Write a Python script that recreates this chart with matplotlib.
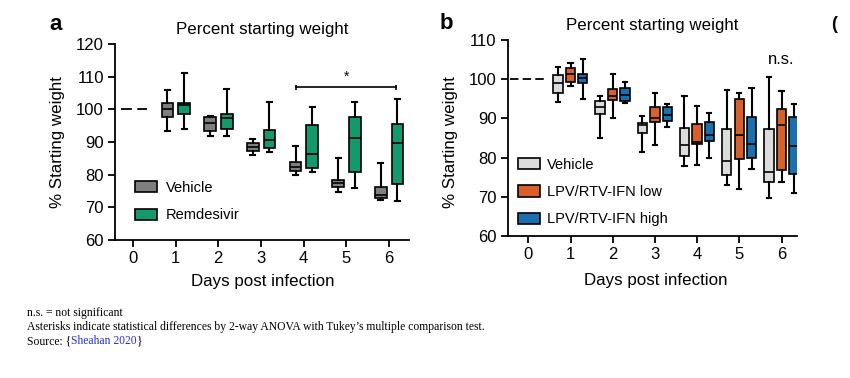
import matplotlib
matplotlib.use("Agg")
import matplotlib.pyplot as plt
from matplotlib.patches import Patch

plt.rcParams['font.family'] = ['Liberation Sans', 'DejaVu Sans']

days = [1, 2, 3, 4, 5, 6]
day_ticks = [0, 1, 2, 3, 4, 5, 6]

# panel a: five-number summaries per day (whislo, q1, med, q3, whishi)
veh_a_lo = [93.4, 91.9, 85.9, 80.0, 74.7, 72.1]
veh_a_q1 = [97.8, 93.4, 87.1, 81.1, 76.1, 72.8]
veh_a_med = [100.2, 95.8, 88.6, 82.3, 77.4, 73.8]
veh_a_q3 = [101.8, 97.6, 89.6, 83.9, 78.4, 76.1]
veh_a_hi = [106.0, 98.1, 91.0, 88.9, 85.1, 83.5]

rem_lo = [94.0, 91.9, 86.8, 80.8, 75.8, 71.8]
rem_q1 = [98.6, 93.9, 88.1, 82.0, 80.8, 77.3]
rem_med = [101.4, 97.3, 90.7, 86.4, 91.1, 89.6]
rem_q3 = [102.0, 98.6, 93.7, 95.3, 97.6, 95.4]
rem_hi = [111.0, 106.2, 102.2, 100.6, 102.2, 103.2]

# panel b
veh_b_lo = [94.3, 85.1, 81.3, 77.9, 72.9, 69.8]
veh_b_q1 = [96.6, 91.1, 86.2, 80.4, 75.6, 73.7]
veh_b_med = [99.1, 93.0, 88.2, 83.2, 79.1, 76.2]
veh_b_q3 = [101.1, 94.4, 88.9, 87.5, 87.2, 87.2]
veh_b_hi = [103.2, 95.7, 90.7, 95.7, 97.2, 100.5]

low_lo = [98.3, 90.0, 83.1, 78.1, 72.0, 73.7]
low_q1 = [99.4, 94.7, 89.2, 83.4, 79.6, 76.8]
low_med = [101.2, 95.8, 90.0, 84.1, 85.7, 88.2]
low_q3 = [102.8, 97.4, 92.8, 88.6, 94.9, 92.5]
low_hi = [104.2, 101.2, 96.4, 93.2, 96.4, 97.0]

high_lo = [95.0, 94.0, 87.9, 80.0, 77.1, 71.0]
high_q1 = [99.1, 94.5, 89.3, 84.3, 79.8, 75.8]
high_med = [100.2, 96.0, 90.9, 85.8, 83.4, 83.0]
high_q3 = [101.2, 97.7, 92.8, 89.0, 90.3, 90.3]
high_hi = [105.2, 99.2, 93.7, 91.3, 97.7, 93.7]


def stats(lo, q1, med, q3, hi):
    return [dict(whislo=a, q1=b, med=c, q3=d, whishi=e, fliers=[])
            for a, b, c, d, e in zip(lo, q1, med, q3, hi)]


def draw_boxes(ax, st, offset, width, color):
    pos = [d + offset for d in days]
    ax.bxp(st, positions=pos, widths=width, patch_artist=True,
           showfliers=False, manage_ticks=False,
           boxprops=dict(facecolor=color, edgecolor='black', linewidth=1.2),
           medianprops=dict(color='black', linewidth=1.2),
           whiskerprops=dict(color='black', linewidth=1.5),
           capprops=dict(color='black', linewidth=1.5),
           capwidths=width * 0.45)


def style_axes(ax):
    for s in ['top', 'right']:
        ax.spines[s].set_visible(False)
    for s in ['left', 'bottom']:
        ax.spines[s].set_linewidth(1.3)
    ax.tick_params(direction='out', length=5, width=1.3, labelsize=12, pad=3)
    ax.set_xticks(day_ticks)
    ax.set_title('Percent starting weight', fontsize=12.2, pad=7)
    ax.set_ylabel('% Starting weight', fontsize=12.2)
    ax.set_xlabel('Days post infection', fontsize=12.2)


fig = plt.figure(figsize=(8.5, 3.78), dpi=100)

# ---- panel a
ax1 = fig.add_axes([0.1353, 0.365, 0.3459, 0.5186])
gray = '#7f7f7f'
green = '#14996c'
draw_boxes(ax1, stats(veh_a_lo, veh_a_q1, veh_a_med, veh_a_q3, veh_a_hi), -0.19, 0.27, gray)
draw_boxes(ax1, stats(rem_lo, rem_q1, rem_med, rem_q3, rem_hi), 0.2, 0.27, green)
ax1.plot([-0.29, 0.33], [100, 100], color='black', lw=1.3, linestyle=(0, (6, 3)))
ax1.plot([3.81, 6.16], [106.8, 106.8], color='black', lw=1.2)
ax1.vlines([3.81, 6.16], 106.0, 107.6, color='black', lw=1.2)
ax1.text(5.0, 107.9, '*', ha='center', va='bottom', fontsize=10)
ax1.set_xlim(-0.42, 6.47)
ax1.set_ylim(60, 120)
ax1.set_yticks([60, 70, 80, 90, 100, 110, 120])
style_axes(ax1)
ax1.yaxis.set_label_coords(-0.17, 0.5)
ax1.xaxis.set_label_coords(0.502, -0.172)
ax1.legend(handles=[Patch(facecolor=gray, edgecolor='black', lw=1.2, label='Vehicle'),
                    Patch(facecolor=green, edgecolor='black', lw=1.2, label='Remdesivir')],
           loc='lower left', bbox_to_anchor=(0.068, 0.09), frameon=False, fontsize=10.5,
           borderpad=0, borderaxespad=0, handlelength=1.5, handleheight=0.85,
           handletextpad=0.6, labelspacing=0.95)

# ---- panel b
ax2 = fig.add_axes([0.5973, 0.3757, 0.34, 0.5185])
light = '#dcdcdc'
orange = '#d8602b'
blue = '#1a70ae'
draw_boxes(ax2, stats(veh_b_lo, veh_b_q1, veh_b_med, veh_b_q3, veh_b_hi), -0.3, 0.22, light)
draw_boxes(ax2, stats(low_lo, low_q1, low_med, low_q3, low_hi), 0.0, 0.22, orange)
draw_boxes(ax2, stats(high_lo, high_q1, high_med, high_q3, high_hi), 0.29, 0.22, blue)
ax2.plot([-0.43, 0.37], [100, 100], color='black', lw=1.3, linestyle=(0, (4.7, 2.3)))
ax2.text(6.0, 103.0, 'n.s.', ha='center', va='bottom', fontsize=12)
ax2.set_xlim(-0.49, 6.36)
ax2.set_ylim(60, 110)
ax2.set_yticks([60, 70, 80, 90, 100, 110])
style_axes(ax2)
ax2.yaxis.set_label_coords(-0.172, 0.48)
ax2.xaxis.set_label_coords(0.511, -0.19)
ax2.legend(handles=[Patch(facecolor=light, edgecolor='black', lw=1.2, label='Vehicle'),
                    Patch(facecolor=orange, edgecolor='black', lw=1.2, label='LPV/RTV-IFN low'),
                    Patch(facecolor=blue, edgecolor='black', lw=1.2, label='LPV/RTV-IFN high')],
           loc='lower left', bbox_to_anchor=(0.036, 0.05), frameon=False, fontsize=10.5,
           borderpad=0, borderaxespad=0, handlelength=1.5, handleheight=0.8,
           handletextpad=0.45, labelspacing=0.9)

# panel letters
fig.text(49 / 850, 1 - 30 / 378, 'a', fontsize=16, fontweight='bold', va='baseline')
fig.text(440 / 850, 1 - 29 / 378, 'b', fontsize=16, fontweight='bold', va='baseline')
fig.text(831 / 850, 1 - 29 / 378, '(', fontsize=13, fontweight='bold', va='baseline')

# footer notes
serif = ['Liberation Serif', 'DejaVu Serif']
fs = 8.4
fig.text(27 / 850, 1 - 316 / 378, 'n.s. = not significant', family=serif, fontsize=fs, va='baseline')
fig.text(27 / 850, 1 - 330 / 378,
         'Asterisks indicate statistical differences by 2-way ANOVA with Tukey\u2019s multiple comparison test.',
         family=serif, fontsize=fs, va='baseline')
t1 = fig.text(27 / 850, 1 - 344 / 378, 'Source: {', family=serif, fontsize=fs, va='baseline')
t2 = fig.text(0, 0, 'Sheahan 2020', family=serif, fontsize=fs, color='#2b2bd0', va='baseline')
fig.canvas.draw()
r = fig.canvas.get_renderer()
bb = t1.get_window_extent(r)
t2.set_position((bb.x1 / fig.bbox.width, 1 - 344 / 378))
bb2 = t2.get_window_extent(r)
fig.text(bb2.x1 / fig.bbox.width, 1 - 344 / 378, '}', family=serif, fontsize=fs, va='baseline')

fig.savefig('out.png', dpi=100)
